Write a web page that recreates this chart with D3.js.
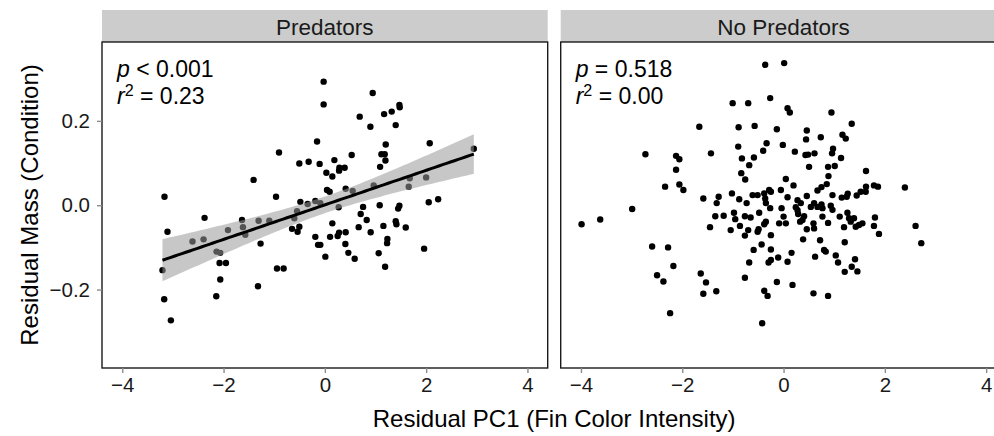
<!DOCTYPE html>
<html><head><meta charset="utf-8">
<script src="https://cdn.jsdelivr.net/npm/d3@7"></script>
<style>
body{margin:0;background:#fff}
svg{display:block}
text{font-family:"Liberation Sans",Arial,Helvetica,sans-serif}
</style>
</head><body>
<svg id="chart" width="994" height="436"></svg>
<script>
// ---------- data ----------
const panelNames = ["Predators", "No Predators"];
const pLabels = ["< 0.001", "= 0.518"];
const r2Labels = ["0.23", "0.00"];
const xTicks = [-4, -2, 0, 2, 4];
const yTicks = [-0.2, 0.0, 0.2];
const xTitle = "Residual PC1 (Fin Color Intensity)";
const yTitle = "Residual Mass (Condition)";

const predX = [-3.206,-3.107,-3.172,-3.040,-2.613,-2.395,-2.375,-2.138,-2.065,-2.079,
-1.953,-2.065,-2.144,-1.913,-1.636,-1.617,-1.571,-1.308,-1.269,-1.320,
-1.097,-0.945,-0.814,-0.648,-0.603,-0.549,-0.504,-0.538,-0.484,-0.340,
-0.188,-0.188,-0.134,0.010,-3.166,-1.407,-0.964,-0.905,-0.504,-0.320,
-0.103,-0.154,-0.024,-0.024,0.030,0.043,0.095,0.945,0.688,0.899,
1.170,1.320,1.472,1.478,1.399,1.202,1.117,1.182,1.196,1.091,
0.530,0.188,0.287,0.391,0.281,0.148,0.411,0.549,0.964,1.656,
1.676,2.000,2.071,2.941,2.051,2.237,0.273,0.755,1.083,1.472,
1.447,-0.089,0.708,0.826,0.148,0.103,0.253,0.281,0.411,-0.089,
0.405,0.464,0.589,0.668,0.905,1.156,1.399,1.413,1.597,1.235,
1.229,1.063,1.190,1.960];
const predY = [-0.154,-0.063,-0.223,-0.273,-0.086,-0.081,-0.030,-0.110,-0.113,-0.137,
-0.137,-0.176,-0.216,-0.059,-0.035,-0.052,-0.070,-0.037,-0.091,-0.192,
-0.037,-0.150,-0.150,-0.056,-0.031,-0.014,-0.051,-0.063,0.008,0.003,
0.010,-0.075,-0.094,-0.122,0.020,0.060,0.020,0.125,0.099,0.103,
0.098,0.151,0.293,0.239,0.077,0.036,0.032,0.266,0.210,0.186,
0.216,0.222,0.238,0.232,0.190,0.144,0.121,0.121,0.106,0.091,
0.119,0.107,0.089,0.089,0.082,0.068,0.039,0.034,0.047,0.044,
0.064,0.066,0.147,0.134,0.007,0.014,-0.005,-0.004,0.000,-0.001,
-0.008,0.005,-0.021,-0.035,-0.043,-0.075,-0.073,-0.065,-0.064,-0.094,
-0.092,-0.113,-0.127,-0.052,-0.064,-0.049,-0.038,-0.045,-0.053,-0.080,
-0.090,-0.114,-0.146,-0.103];

const noPredX = [-0.363,-1.005,-0.698,-0.264,-1.663,-0.887,-0.571,-0.132,-2.727,-1.433,
-0.895,-0.335,-0.402,-2.122,-2.057,-0.822,-0.585,-0.678,-2.122,-0.835,
-0.757,-2.339,-2.057,-1.978,-1.584,-1.281,-1.320,-1.019,-0.875,-0.729,
-0.611,-0.512,-0.382,-0.284,-0.363,-0.349,-0.264,-2.989,
0.012,0.079,0.124,0.946,1.346,0.459,0.445,0.735,1.163,1.228,
-0.014,0.223,0.433,0.485,0.611,0.977,0.958,1.135,0.504,0.879,
1.011,0.887,1.628,0.045,0.197,-0.053,-0.250,0.670,0.749,0.853,
0.966,1.149,1.267,1.247,1.444,1.523,1.628,1.622,1.785,1.864,
2.396,0.079,0.276,0.459,0.341,0.603,0.749,0.932,0.538,0.670,-0.039,
0.242,0.276,0.768,0.966,0.000,0.288,0.406,0.374,0.327,-0.087,
0.045,0.591,0.603,0.459,0.768,0.879,1.109,1.194,1.261,1.293,
1.391,1.326,1.425,1.490,1.557,1.805,1.785,1.884,2.607,2.719,
-0.250,0.386,0.721,1.208,-0.250,0.800,0.833,0.158,0.079,-0.106,
-0.250,0.623,1.031,1.076,1.411,1.346,1.458,1.208,-0.132,0.177,
0.591,0.879,
-3.988,-3.620,-2.595,-2.280,-2.175,-2.497,-2.372,-2.240,-1.635,-1.531,
-1.584,-1.328,-1.348,-1.182,-1.452,-0.979,-0.954,-0.861,-1.044,-0.763,
-0.650,-0.698,-0.763,-0.481,-0.349,-0.382,-0.512,-0.493,-0.433,-0.591,
-0.296,-0.678,-0.763,-0.382,-0.315,-0.422];
const noPredY = [0.333,0.242,0.242,0.254,0.186,0.185,0.188,0.180,0.121,0.123,
0.139,0.147,0.129,0.117,0.109,0.111,0.113,0.095,0.084,0.076,
0.061,0.044,0.049,0.036,0.016,0.020,0.005,0.028,0.014,0.005,
0.024,0.024,0.028,0.036,0.016,0.005,-0.007,-0.009,
0.337,0.230,0.220,0.220,0.193,0.177,0.156,0.161,0.167,0.158,
0.143,0.127,0.119,0.120,0.123,0.134,0.123,0.112,0.091,0.091,
0.093,0.069,0.081,0.062,0.047,0.036,0.032,0.035,0.043,0.050,
0.024,0.018,0.027,0.020,0.023,0.032,0.044,0.032,0.047,0.044,
0.042,0.019,0.012,0.022,0.005,0.005,0.002,-0.001,-0.004,-0.004,-0.007,
-0.005,-0.012,-0.007,-0.011,-0.027,-0.021,-0.026,-0.035,-0.039,-0.043,
-0.043,-0.043,-0.055,-0.057,-0.027,-0.042,-0.027,-0.052,-0.018,-0.031,
-0.031,-0.039,-0.051,-0.047,-0.043,-0.029,-0.049,-0.068,-0.049,-0.090,
-0.071,-0.081,-0.083,-0.088,-0.105,-0.106,-0.110,-0.113,-0.134,-0.124,
-0.130,-0.122,-0.119,-0.136,-0.128,-0.146,-0.157,-0.158,-0.182,-0.189,
-0.209,-0.215,
-0.045,-0.034,-0.098,-0.100,-0.144,-0.166,-0.181,-0.256,-0.162,-0.183,
-0.210,-0.204,-0.026,-0.025,-0.052,-0.018,-0.033,-0.049,-0.059,-0.026,
-0.029,-0.059,-0.072,-0.018,-0.039,-0.045,-0.063,-0.057,-0.093,-0.106,
-0.136,-0.136,-0.172,-0.203,-0.215,-0.280];

const xDomain = [-4.4, 4.4];
const yDomain = [-0.386, 0.387];

// ---------- layout ----------
const svg = d3.select("#chart");
const panelLeft = [102, 560.7];
const panelW = 445.7;
const panelTop = 42, panelBottom = 368;
const stripTop = 10;
const FONT_TICK = 20.5, FONT_TITLE = 24, FONT_STRIP = 22.5, FONT_ANN = 23;

const y = d3.scaleLinear().domain(yDomain).range([panelBottom, panelTop]);

const datasets = [
  predX.map((v, i) => ({x: v, y: predY[i]})),
  noPredX.map((v, i) => ({x: v, y: noPredY[i]}))
];

// linear fit with 95% confidence band (geom_smooth(method="lm"))
function lmFit(pts) {
  const n = pts.length;
  const mx = d3.mean(pts, d => d.x), my = d3.mean(pts, d => d.y);
  const sxx = d3.sum(pts, d => (d.x - mx) ** 2);
  const sxy = d3.sum(pts, d => (d.x - mx) * (d.y - my));
  const b = sxy / sxx, a = my - b * mx;
  const sse = d3.sum(pts, d => (d.y - a - b * d.x) ** 2);
  const s = Math.sqrt(sse / (n - 2));
  const t = 1.983;
  const [x0, x1] = d3.extent(pts, d => d.x);
  return d3.range(0, 81).map(k => {
    const xv = x0 + (x1 - x0) * k / 80;
    const fit = a + b * xv;
    const se = s * Math.sqrt(1 / n + (xv - mx) ** 2 / sxx);
    return {x: xv, y: fit, lo: fit - t * se, hi: fit + t * se};
  });
}

panelNames.forEach((name, pi) => {
  const left = panelLeft[pi];
  const x = d3.scaleLinear().domain(xDomain).range([left, left + panelW]);
  const g = svg.append("g");

  // strip
  g.append("rect").attr("x", left).attr("y", stripTop)
    .attr("width", panelW).attr("height", panelTop - stripTop)
    .attr("fill", "#cccccc");
  g.append("text").attr("x", left + panelW / 2).attr("y", (stripTop + panelTop) / 2 + 1)
    .attr("text-anchor", "middle").attr("dominant-baseline", "central")
    .attr("font-size", FONT_STRIP).attr("fill", "#1a1a1a").text(name);

  const clipId = "clip" + pi;
  svg.append("clipPath").attr("id", clipId).append("rect")
    .attr("x", left).attr("y", panelTop).attr("width", panelW).attr("height", panelBottom - panelTop);
  const plot = g.append("g").attr("clip-path", `url(#${clipId})`);

  plot.selectAll("circle").data(datasets[pi]).join("circle")
    .attr("cx", d => x(d.x)).attr("cy", d => y(d.y)).attr("r", 3.2).attr("fill", "#000");

  if (pi === 0) {
    const fit = lmFit(datasets[pi]);
    plot.append("path").datum(fit)
      .attr("d", d3.area().x(d => x(d.x)).y0(d => y(d.lo)).y1(d => y(d.hi)))
      .attr("fill", "#999999").attr("fill-opacity", 0.55);
    plot.append("path").datum(fit)
      .attr("d", d3.line().x(d => x(d.x)).y(d => y(d.y)))
      .attr("fill", "none").attr("stroke", "#000").attr("stroke-width", 3);
  }

  // border
  g.append("rect").attr("x", left).attr("y", panelTop)
    .attr("width", panelW).attr("height", panelBottom - panelTop)
    .attr("fill", "none").attr("stroke", "#1a1a1a").attr("stroke-width", 1.4);

  // x axis
  const xa = g.append("g").attr("transform", `translate(0,${panelBottom})`)
    .call(d3.axisBottom(x).tickValues(xTicks).tickFormat(d3.format("d")).tickSizeOuter(0).tickSize(5).tickPadding(4));
  xa.select(".domain").remove();
  xa.selectAll("line").attr("stroke", "#8c8c8c").attr("stroke-width", 1.4);
  xa.selectAll("text").attr("font-size", FONT_TICK).attr("fill", "#1a1a1a")
    .style("font-family", '"Liberation Sans",Arial,sans-serif');

  // annotation
  const ann = g.append("g").attr("font-size", FONT_ANN).attr("fill", "#000");
  const t1 = ann.append("text").attr("x", left + 15).attr("y", 77);
  t1.append("tspan").attr("font-style", "italic").text("p");
  t1.append("tspan").text(" " + pLabels[pi]);
  const t2 = ann.append("text").attr("x", left + 15).attr("y", 104);
  t2.append("tspan").attr("font-style", "italic").text("r");
  t2.append("tspan").attr("font-size", FONT_ANN * 0.7).attr("dy", -8).text("2");
  t2.append("tspan").attr("dy", 8).text(" = " + r2Labels[pi]);
});

// y axis (left panel only)
const ya = svg.append("g").attr("transform", `translate(${panelLeft[0]},0)`)
  .call(d3.axisLeft(y).tickValues(yTicks).tickFormat(d3.format(".1f")).tickSizeOuter(0).tickSize(5).tickPadding(7));
ya.select(".domain").remove();
ya.selectAll("line").attr("stroke", "#8c8c8c").attr("stroke-width", 1.4);
ya.selectAll("text").attr("font-size", FONT_TICK).attr("fill", "#1a1a1a")
  .style("font-family", '"Liberation Sans",Arial,sans-serif');

// axis titles
svg.append("text").attr("x", (panelLeft[0] + panelLeft[1] + panelW) / 2).attr("y", 427)
  .attr("text-anchor", "middle").attr("font-size", FONT_TITLE).attr("fill", "#000").text(xTitle);
svg.append("text").attr("transform", `translate(38,${(panelTop + panelBottom) / 2}) rotate(-90)`)
  .attr("text-anchor", "middle").attr("font-size", FONT_TITLE).attr("fill", "#000").text(yTitle);
</script>
</body></html>
